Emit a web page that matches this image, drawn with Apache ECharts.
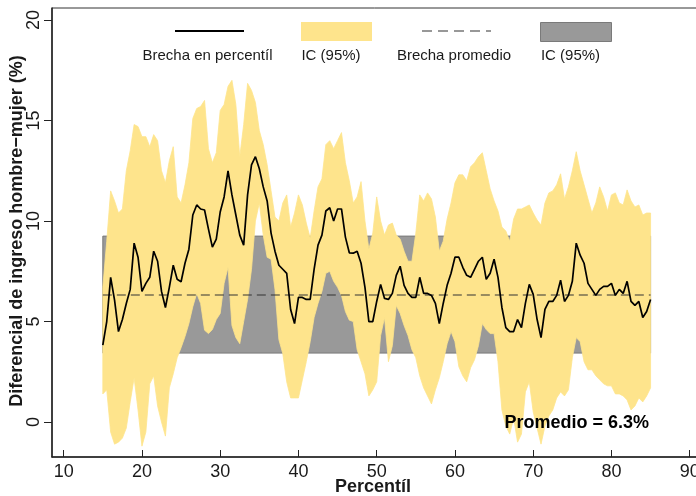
<!DOCTYPE html>
<html><head><meta charset="utf-8">
<script src="https://cdn.jsdelivr.net/npm/echarts@6/dist/echarts.min.js"></script>
<style>html,body{margin:0;padding:0;background:#fff}#c{width:696px;height:496px}</style>
</head><body><div id="c"></div>
<script>
const percentiles = [15,15.5,16,16.5,17,17.5,18,18.5,19,19.5,
20,20.5,21,21.5,22,22.5,23,23.5,24,24.5,
25,25.5,26,26.5,27,27.5,28,28.5,29,29.5,
30,30.5,31,31.5,32,32.5,33,33.5,34,34.5,
35,35.5,36,36.5,37,37.5,38,38.5,39,39.5,
40,40.5,41,41.5,42,42.5,43,43.5,44,44.5,
45,45.5,46,46.5,47,47.5,48,48.5,49,49.5,
50,50.5,51,51.5,52,52.5,53,53.5,54,54.5,
55,55.5,56,56.5,57,57.5,58,58.5,59,59.5,
60,60.5,61,61.5,62,62.5,63,63.5,64,64.5,
65,65.5,66,66.5,67,67.5,68,68.5,69,69.5,
70,70.5,71,71.5,72,72.5,73,73.5,74,74.5,
75,75.5,76,76.5,77,77.5,78,78.5,79,79.5,
80,80.5,81,81.5,82,82.5,83,83.5,84,84.5,85];

const gap = [3.83,5.0,7.2,6.07,4.5,5.1,5.9,6.6,8.9,8.2,
6.5,6.9,7.2,8.5,8.0,6.5,5.7,6.7,7.8,7.1,
6.98,7.9,8.6,10.3,10.8,10.6,10.55,9.6,8.7,9.1,
10.45,11.2,12.5,11.3,10.3,9.3,8.8,11.3,12.8,13.2,
12.6,11.7,11.0,9.4,8.5,7.8,7.6,7.4,5.6,4.9,
6.2,6.2,6.1,6.1,7.6,8.8,9.3,10.5,10.66,10.0,
10.6,10.6,9.2,8.42,8.4,8.5,7.9,6.7,5.0,5.0,
6.0,6.85,6.15,6.1,6.4,7.3,7.75,6.8,6.4,6.2,
6.2,7.2,6.4,6.4,6.3,5.9,4.9,5.9,6.8,7.4,
8.2,8.2,7.7,7.3,7.2,7.6,8.0,8.2,7.1,7.4,
8.1,7.2,5.7,4.7,4.5,4.5,5.1,4.7,5.9,6.85,
6.35,5.1,4.2,5.6,6.0,6.0,6.3,7.06,6.0,6.3,
7.0,8.9,8.3,7.9,6.9,6.6,6.3,6.6,6.75,6.75,
6.9,6.3,6.6,6.4,7.0,6.0,5.8,6.0,5.2,5.5,6.1];

const ciUpper = [6.7,9.0,11.5,11.0,10.4,10.6,12.5,13.5,14.8,14.7,
14.2,14.2,13.7,14.3,14.0,12.5,11.9,13.0,13.7,11.2,
10.9,11.8,12.9,15.1,15.6,15.7,16.0,13.6,12.9,13.4,
15.5,15.8,16.7,17.0,15.8,13.2,14.8,16.85,16.5,15.9,
14.5,13.8,12.8,11.5,10.2,10.0,10.9,11.3,9.7,10.4,
11.3,10.8,9.9,9.15,10.5,11.7,12.1,13.8,14.0,13.6,
14.0,14.4,12.9,12.0,10.9,11.2,11.96,10.0,8.6,9.4,
11.2,10.0,9.3,9.8,9.9,9.3,9.1,8.5,8.0,8.0,
9.4,11.3,11.0,11.4,11.1,10.2,8.5,9.0,10.1,10.9,
11.9,12.3,12.3,12.0,12.7,12.9,13.2,13.4,12.5,11.6,
11.0,10.5,9.7,9.5,9.0,10.1,10.6,10.6,10.7,10.8,
10.4,10.05,9.8,10.9,11.4,11.5,11.8,12.35,11.1,11.7,
12.5,13.45,12.5,11.8,11.1,10.4,10.9,11.7,11.2,10.5,
11.3,11.4,10.9,10.8,11.55,11.0,10.7,10.8,10.3,10.4,10.4];

const ciLower = [1.4,1.6,-0.5,-1.1,-1.0,-0.8,-0.3,1.0,2.2,0.6,
-1.2,-0.5,1.9,2.3,0.8,0.0,-0.7,1.7,2.4,3.2,
3.7,4.25,4.9,5.74,6.4,5.9,4.57,4.4,4.6,5.1,
5.4,6.9,7.7,4.8,4.2,3.9,5.0,6.1,7.6,10.0,
10.9,9.3,8.2,8.1,6.6,4.1,3.4,2.0,1.2,1.2,
1.2,2.1,3.0,4.0,5.2,5.9,6.5,7.4,7.5,7.0,
6.7,6.3,5.5,5.07,5.0,3.6,3.0,2.4,1.3,1.6,
2.0,4.3,5.2,3.0,3.8,5.8,5.4,4.8,4.3,3.6,
3.2,2.3,1.7,1.3,0.9,1.6,2.2,3.0,3.9,4.5,
4.0,2.75,2.3,2.0,2.7,3.1,3.8,4.9,4.6,4.4,
4.4,3.0,0.6,-0.2,-0.6,0.2,-1.0,-0.6,1.5,2.0,
0.5,-0.3,-1.1,-0.2,0.3,0.6,1.2,1.5,1.3,1.6,
3.2,4.2,4.0,3.0,2.6,2.6,2.3,2.1,1.9,1.8,
1.8,1.4,1.4,1.3,1.1,0.6,0.8,1.2,1.0,1.3,1.7];

const meanGap = 6.32;
const meanCiLow = 3.43;
const meanCiHigh = 9.25;
const meanRange = [15, 85];
const xTicks = [10,20,30,40,50,60,70,80,90];
const yTicks = [0,5,10,15,20];
const xTitle = 'Percentíl';
const yTitle = 'Diferencial de ingreso hombre−mujer (%)';
const legendLabels = ['Brecha en percentíl','IC (95%)','Brecha promedio','IC (95%)'];
const noteText = 'Promedio = 6.3%';

const YELLOW = '#FEE48C';
const GRAY = '#999999';
const FONT = '"Liberation Sans", Arial, Helvetica, sans-serif';
const TXT = '#1a1a1a';

const chart = echarts.init(document.getElementById('c'), null, {renderer:'canvas'});

const bandData = percentiles.map((p,i)=>[p, ciLower[i], ciUpper[i]]);

chart.setOption({
  animation:false,
  backgroundColor:'#ffffff',
  textStyle:{fontFamily:FONT},
  grid:{left:52, top:8, width:646, height:449, show:true, borderColor:'#333', borderWidth:1,
        backgroundColor:'transparent', containLabel:false, outerBoundsMode:'none'},
  xAxis:{
    type:'value', min:8.505, max:91.06,
    axisLine:{show:true, onZero:false, lineStyle:{color:'#222', width:1.5}},
    axisTick:{show:true, inside:true, length:7, customValues:xTicks, lineStyle:{color:'#222', width:1}},
    axisLabel:{customValues:xTicks, fontSize:18, margin:6, color:TXT, fontFamily:FONT},
    splitLine:{show:false}
  },
  yAxis:{
    type:'value', min:-1.74, max:20.6,
    axisLine:{show:true, onZero:false, lineStyle:{color:'#222', width:1.5}},
    axisTick:{show:true, inside:false, length:8, customValues:yTicks, lineStyle:{color:'#222', width:1}},
    axisLabel:{customValues:yTicks, rotate:90, fontSize:18, margin:9, color:TXT, fontFamily:FONT},
    splitLine:{show:false}
  },
  series:[
    {
      name:'IC promedio', type:'line', z:1, data:[[meanRange[0], meanCiLow]], symbol:'none',
      lineStyle:{width:0, opacity:0}, silent:true,
      markArea:{silent:true, itemStyle:{color:GRAY, borderColor:'#7a7a7a', borderWidth:1},
        data:[[{coord:[meanRange[0], meanCiLow]},{coord:[meanRange[1], meanCiHigh]}]]}
    },
    {
      name:'IC (95%)', type:'custom', z:2, silent:true,
      data:bandData,
      encode:{x:0, y:[1,2]},
      renderItem:function(params, api){
        if (params.dataIndex !== 0) return null;
        const pts = [];
        for (let i=0;i<percentiles.length;i++) pts.push(api.coord([percentiles[i], ciUpper[i]]));
        for (let i=percentiles.length-1;i>=0;i--) pts.push(api.coord([percentiles[i], ciLower[i]]));
        return {type:'polygon', shape:{points:pts}, style:{fill:YELLOW, stroke:YELLOW, lineWidth:0.8}};
      }
    },
    {
      name:'Brecha promedio', type:'line', z:3, symbol:'none',
      data:[[meanRange[0], meanGap],[meanRange[1], meanGap]],
      lineStyle:{color:'#333', width:1.2, type:[9,5]}
    },
    {
      name:'Brecha en percentíl', type:'line', z:4, symbol:'none',
      data:percentiles.map((p,i)=>[p, gap[i]]),
      lineStyle:{color:'#000', width:1.7}
    }
  ],
  graphic:[
    {type:'line', shape:{x1:175,y1:31,x2:244,y2:31}, style:{stroke:'#000', lineWidth:2}},
    {type:'rect', shape:{x:301,y:22,width:71,height:19}, style:{fill:YELLOW}},
    {type:'line', shape:{x1:422,y1:31,x2:491,y2:31}, style:{stroke:'#333', lineWidth:1.2, lineDash:[10,6]}},
    {type:'rect', shape:{x:540.5,y:22.5,width:71,height:19}, style:{fill:GRAY, stroke:'#7a7a7a', lineWidth:1}},
    {type:'text', x:207.5, y:56, style:{text:legendLabels[0], align:'center', verticalAlign:'middle', fontSize:15, fontFamily:FONT, fill:TXT}},
    {type:'text', x:331, y:56, style:{text:legendLabels[1], align:'center', verticalAlign:'middle', fontSize:15, fontFamily:FONT, fill:TXT}},
    {type:'text', x:454, y:56, style:{text:legendLabels[2], align:'center', verticalAlign:'middle', fontSize:15, fontFamily:FONT, fill:TXT}},
    {type:'text', x:570.5, y:56, style:{text:legendLabels[3], align:'center', verticalAlign:'middle', fontSize:15, fontFamily:FONT, fill:TXT}},
    {type:'text', x:649, y:423, z:10, style:{text:noteText, align:'right', verticalAlign:'middle', fontSize:18, fontWeight:'bold', fontFamily:FONT, fill:'#000'}},
    {type:'text', x:373, y:487, style:{text:xTitle, align:'center', verticalAlign:'middle', fontSize:18, fontWeight:'bold', fontFamily:FONT, fill:TXT}},
    {type:'text', x:17, y:231, rotation:Math.PI/2, style:{text:yTitle, align:'center', verticalAlign:'middle', fontSize:18, fontWeight:'bold', fontFamily:FONT, fill:TXT}}
  ]
});
</script>
</body></html>
